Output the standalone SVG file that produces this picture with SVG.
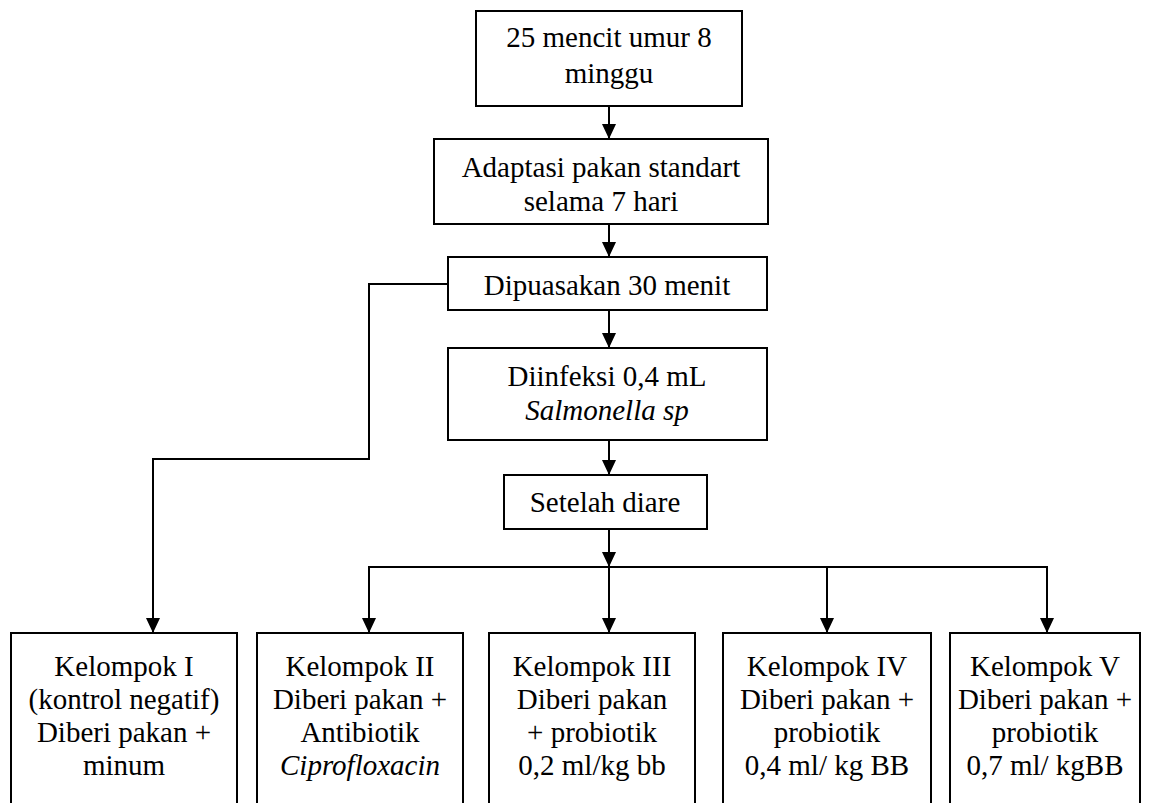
<svg xmlns="http://www.w3.org/2000/svg" width="1151" height="803" viewBox="0 0 1151 803">
<defs>
<marker id="ah" markerUnits="userSpaceOnUse" markerWidth="16" markerHeight="16" refX="15" refY="7" orient="auto">
<path d="M0,0 L15,7 L0,14 z" fill="#000"/>
</marker>
</defs>
<rect width="1151" height="803" fill="#fff"/>
<g id="connectors" fill="none" stroke="#000" stroke-width="2">
<line x1="609" y1="106" x2="609" y2="139" marker-end="url(#ah)"/>
<line x1="609" y1="224" x2="609" y2="257" marker-end="url(#ah)"/>
<line x1="609" y1="310" x2="609" y2="348" marker-end="url(#ah)"/>
<line x1="609" y1="440" x2="609" y2="475" marker-end="url(#ah)"/>
<line x1="609" y1="529" x2="609" y2="567" marker-end="url(#ah)"/>
<line x1="368" y1="567" x2="1048" y2="567"/>
<line x1="369" y1="567" x2="369" y2="633" marker-end="url(#ah)"/>
<line x1="609" y1="567" x2="609" y2="633" marker-end="url(#ah)"/>
<line x1="827" y1="567" x2="827" y2="633" marker-end="url(#ah)"/>
<line x1="1047" y1="567" x2="1047" y2="633" marker-end="url(#ah)"/>
<path d="M448,284 H369 V459 H153 V633" marker-end="url(#ah)"/>
</g>
<g id="nodes" font-family="Liberation Serif" font-size="29" text-anchor="middle" fill="#000">
<g id="n1"><rect x="476" y="11" width="266" height="95" fill="#fff" stroke="#000" stroke-width="2"/>
<text x="609" y="47">25 mencit umur 8</text><text x="609" y="83">minggu</text></g>
<g id="n2"><rect x="434" y="139" width="334" height="85" fill="#fff" stroke="#000" stroke-width="2"/>
<text x="601" y="177">Adaptasi pakan standart</text><text x="601" y="211">selama 7 hari</text></g>
<g id="n3"><rect x="448" y="257" width="319" height="53" fill="#fff" stroke="#000" stroke-width="2"/>
<text x="607" y="295">Dipuasakan 30 menit</text></g>
<g id="n4"><rect x="448" y="348" width="319" height="92" fill="#fff" stroke="#000" stroke-width="2"/>
<text x="607" y="386">Diinfeksi 0,4 mL</text><text x="607" y="420" font-style="italic">Salmonella sp</text></g>
<g id="n5"><rect x="504" y="475" width="203" height="54" fill="#fff" stroke="#000" stroke-width="2"/>
<text x="605" y="512">Setelah diare</text></g>
<g id="k1"><rect x="11" y="633" width="226" height="200" fill="#fff" stroke="#000" stroke-width="2"/>
<text x="124" y="676">Kelompok I</text><text x="124" y="709">(kontrol negatif)</text><text x="124" y="742">Diberi pakan +</text><text x="124" y="775">minum</text></g>
<g id="k2"><rect x="257" y="633" width="206" height="200" fill="#fff" stroke="#000" stroke-width="2"/>
<text x="360" y="676">Kelompok II</text><text x="360" y="709">Diberi pakan +</text><text x="360" y="742">Antibiotik</text><text x="360" y="775" font-style="italic">Ciprofloxacin</text></g>
<g id="k3"><rect x="489" y="633" width="206" height="200" fill="#fff" stroke="#000" stroke-width="2"/>
<text x="592" y="676">Kelompok III</text><text x="592" y="709">Diberi pakan</text><text x="592" y="742">+ probiotik</text><text x="592" y="775">0,2 ml/kg bb</text></g>
<g id="k4"><rect x="723" y="633" width="208" height="200" fill="#fff" stroke="#000" stroke-width="2"/>
<text x="827" y="676">Kelompok IV</text><text x="827" y="709">Diberi pakan +</text><text x="827" y="742">probiotik</text><text x="827" y="775">0,4 ml/ kg BB</text></g>
<g id="k5"><rect x="950" y="633" width="190" height="200" fill="#fff" stroke="#000" stroke-width="2"/>
<text x="1045" y="676">Kelompok V</text><text x="1045" y="709">Diberi pakan +</text><text x="1045" y="742">probiotik</text><text x="1045" y="775">0,7 ml/ kgBB</text></g>
</g>
</svg>
